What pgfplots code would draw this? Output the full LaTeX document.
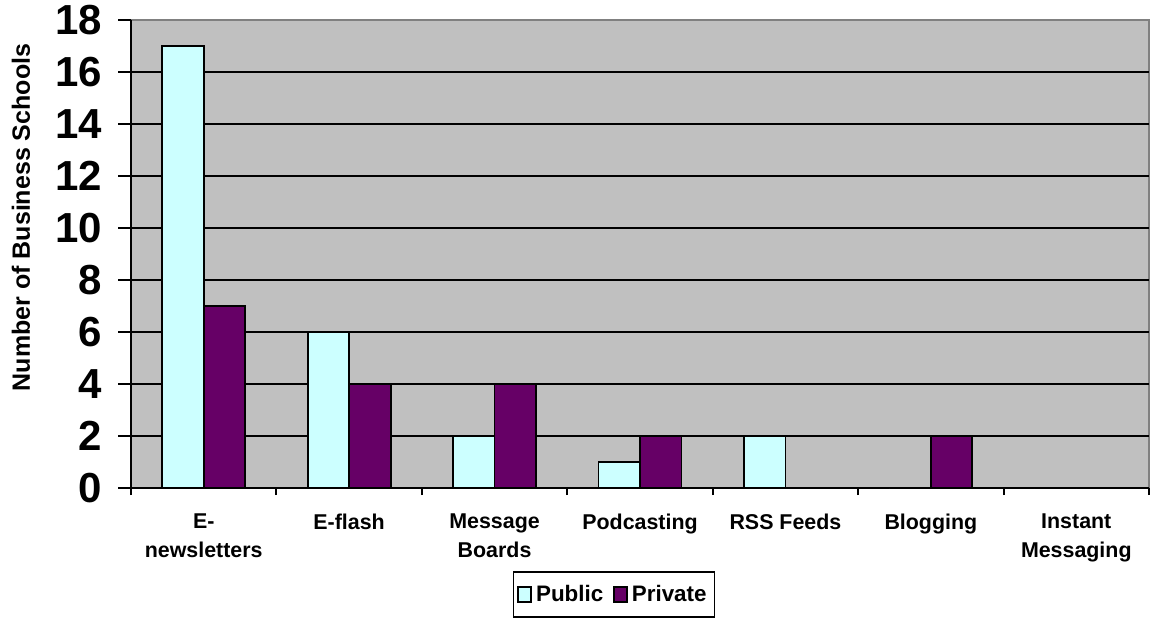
\documentclass[border=0pt]{standalone}
\usepackage{fontspec}
\setmainfont{Liberation Sans}
\usepackage{pgfplots}
\pgfplotsset{compat=1.18}

\definecolor{plotbg}{HTML}{C0C0C0}
\definecolor{plotborder}{HTML}{808080}
\definecolor{publicfill}{HTML}{CCFFFF}
\definecolor{privatefill}{HTML}{660066}

\begin{document}
\begin{tikzpicture}
% fixed page size (1151 x 618 px at 0.5pt per px)
\path[use as bounding box] (0,0) rectangle (575.5pt,309pt);
\begin{axis}[
    at={(65.5pt,65pt)},
    anchor=south west,
    scale only axis,
    width=509pt,
    height=234pt,
    axis lines=left,
    axis line style={-, black, line width=1pt},
    axis background/.style={fill=plotbg, draw=plotborder, line width=1pt},
    ybar=0pt,
    bar width=0.2855,
    xmin=-0.5, xmax=6.5,
    ymin=0, ymax=18,
    xtick={0,...,6},
    xticklabels={E-\\newsletters, E-flash, Message\\Boards, Podcasting, RSS Feeds, Blogging, Instant\\Messaging},
    minor xtick={-0.5,0.5,...,6.5},
    major x tick style={draw=none},
    minor tick length=3.5pt,
    ytick={0,2,...,16},
    extra y ticks={18},
    extra y tick style={grid=none},
    ymajorgrids,
    major grid style={black, line width=0.9pt},
    tick align=outside,
    major tick length=6.5pt,
    tick style={black, line width=1pt},
    /pgf/number format/assume math mode=true,
    xticklabel style={font=\fontsize{10.7}{14.2}\selectfont\bfseries, align=center, anchor=north, yshift=-3pt},
    yticklabel style={font=\fontsize{21}{25}\selectfont\bfseries, xshift=-4.5pt},
    ylabel={Number of Business Schools},
    ylabel style={font=\fontsize{12.5}{15}\selectfont\bfseries, at={(axis description cs:-0.108,0.578)}, anchor=center},
    legend style={at={(0.4745,-0.2276)}, anchor=center, legend columns=2,
        draw=black, line width=0.8pt, font=\fontsize{11.2}{13}\selectfont\bfseries,
        inner xsep=2pt, inner ysep=4.5pt,
        /tikz/every even column/.append style={column sep=3pt}},
    legend image code/.code={\draw[#1, line width=0.8pt] (0pt,-3.7pt) rectangle (6.5pt,3.7pt);},
]
% Public
\addplot[fill=publicfill, draw=black, line width=0.9pt] coordinates {
    (0,17) (1,6) (2,2) (3,1) (4,2) (5,0) (6,0)
};
% Private
\addplot[fill=privatefill, draw=black, line width=0.9pt] coordinates {
    (0,7) (1,4) (2,4) (3,2) (4,0) (5,2) (6,0)
};
\legend{Public, Private}
\end{axis}
\end{tikzpicture}
\end{document}
